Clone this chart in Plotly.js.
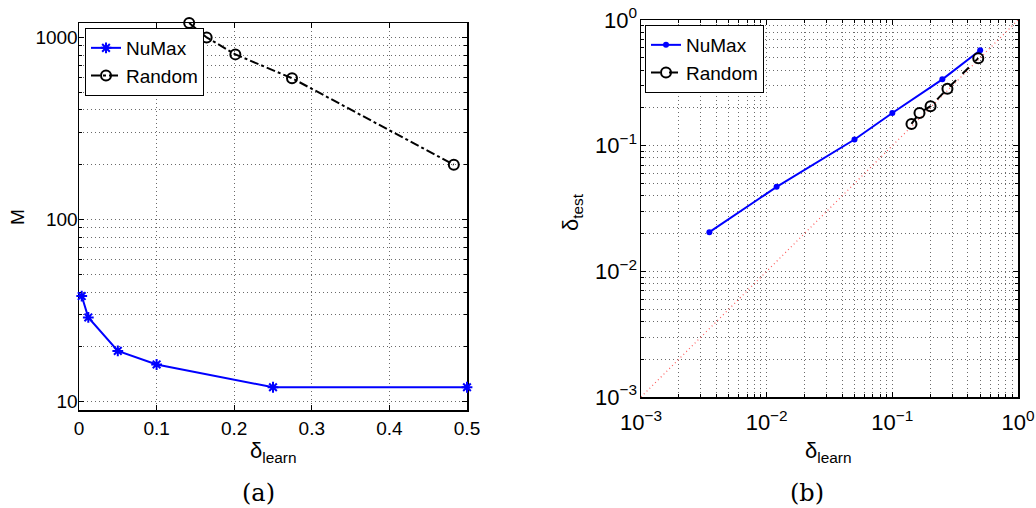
<!DOCTYPE html>
<html>
<head>
<meta charset="utf-8">
<script src="https://cdn.plot.ly/plotly-3.0.1.min.js"></script>
<style>html,body{margin:0;padding:0;background:#fff;}#chart{width:1036px;height:508px;}</style>
</head>
<body>
<div id="chart"></div>
<script>
// ---- data ----
const numaxDeltaLearn = [0.0035, 0.012, 0.05, 0.1, 0.25, 0.5];
const numaxM          = [38, 29, 19, 16, 12, 12];
const numaxDeltaTest  = [0.0205, 0.047, 0.112, 0.182, 0.337, 0.574];
const randomDeltaLearn = [0.142, 0.1645, 0.2015, 0.2745, 0.483];
const randomM          = [1200, 1000, 807, 597, 200];
const randomDeltaTest  = [0.149, 0.182, 0.206, 0.284, 0.497];
const diagonal = [0.001, 1];
const linTicks = [0, 0.1, 0.2, 0.3, 0.4, 0.5];
const linTickText = ['0', '0.1', '0.2', '0.3', '0.4', '0.5'];
const mTicks = [10, 100, 1000];
const mTickText = ['10', '100', '1000'];
const logTicks = [0.001, 0.01, 0.1, 1];
const logTickText = ['10<sup>−3</sup>', '10<sup>−2</sup>', '10<sup>−1</sup>', '10<sup>0</sup>'];

function minorLog(lo, hi) {
  const out = [];
  for (let e = lo; e < hi; e++) for (let k = 2; k <= 9; k++) out.push(k * Math.pow(10, e));
  return out;
}

const BLUE = '#0000ff';
const GRID = '#6a6a6a';
const DOT = '1px,3px';
const SANS = '"Liberation Sans", Arial, Helvetica, sans-serif';
const SERIF = '"DejaVu Serif", "Liberation Serif", serif';

const traces = [
  {x: numaxDeltaLearn, y: numaxM, xaxis: 'x', yaxis: 'y', name: 'NuMax', mode: 'lines+markers',
   line: {color: BLUE, width: 2}, marker: {symbol: 'asterisk-open', size: 9, color: BLUE, line: {color: BLUE, width: 2}},
   cliponaxis: false, legend: 'legend'},
  {x: randomDeltaLearn, y: randomM, xaxis: 'x', yaxis: 'y', name: 'Random', mode: 'lines+markers',
   line: {color: 'black', width: 2, dash: 'dashdot'}, marker: {symbol: 'circle-open', size: 10, color: 'black', line: {color: 'black', width: 2}},
   cliponaxis: false, legend: 'legend'},
  {x: diagonal, y: diagonal, xaxis: 'x2', yaxis: 'y2', mode: 'lines', showlegend: false,
   line: {color: '#ff5a5a', width: 1.2, dash: '1px,3px'}, hoverinfo: 'skip'},
  {x: numaxDeltaLearn, y: numaxDeltaTest, xaxis: 'x2', yaxis: 'y2', name: 'NuMax', mode: 'lines+markers',
   line: {color: BLUE, width: 2}, marker: {symbol: 'circle', size: 6, color: BLUE},
   cliponaxis: false, legend: 'legend2'},
  {x: randomDeltaLearn, y: randomDeltaTest, xaxis: 'x2', yaxis: 'y2', name: 'Random', mode: 'lines+markers',
   line: {color: 'black', width: 2, dash: 'dash'}, marker: {symbol: 'circle-open', size: 10, color: 'black', line: {color: 'black', width: 2}},
   cliponaxis: false, legend: 'legend2'}
];

const axisCommon = {
  ticks: 'inside', ticklen: 5, tickcolor: 'black', showline: true, linecolor: 'black', linewidth: 1.5,
  mirror: 'ticks', showgrid: true, gridcolor: GRID, griddash: DOT, gridwidth: 1, zeroline: false,
  tickfont: {family: SANS, size: 19, color: 'black'}, automargin: false, layer: 'below traces'
};
function minorOpts(vals) {
  return {tickmode: 'array', tickvals: vals, ticks: 'inside', ticklen: 3, tickcolor: 'black',
          showgrid: true, gridcolor: GRID, griddash: DOT, gridwidth: 1};
}

const legendCommon = {xanchor: 'left', yanchor: 'top', bordercolor: 'black', borderwidth: 1, bgcolor: 'white',
  font: {family: SANS, size: 19, color: 'black'}, tracegroupgap: 0, itemwidth: 30};

function label(text, px, py, size, family, angle) {
  return {text: text, xref: 'paper', yref: 'paper', x: px / 1036, y: 1 - py / 508,
          xanchor: 'center', yanchor: 'middle', showarrow: false, textangle: angle || 0,
          font: {family: family, size: size, color: 'black'}};
}

const layout = {
  width: 1036, height: 508, margin: {l: 0, r: 0, t: 0, b: 0},
  paper_bgcolor: 'white', plot_bgcolor: 'white',
  font: {family: SANS, size: 19, color: 'black'},
  xaxis: Object.assign({}, axisCommon, {domain: [79/1036, 467/1036], range: [0, 0.5], anchor: 'y',
    tickmode: 'array', tickvals: linTicks, ticktext: linTickText, ticklabelstandoff: 1}),
  yaxis: Object.assign({}, axisCommon, {domain: [1 - 410/508, 1 - 23/508], type: 'log',
    range: [Math.log10(9), Math.log10(1200)], anchor: 'x', ticklabelstandoff: -4,
    tickmode: 'array', tickvals: mTicks, ticktext: mTickText, minor: minorOpts(minorLog(1, 3))}),
  xaxis2: Object.assign({}, axisCommon, {domain: [641/1036, 1018/1036], type: 'log', range: [-3, 0], anchor: 'y2',
    ticklabelstandoff: 5, tickfont: {family: SANS, size: 22, color: 'black'},
    tickmode: 'array', tickvals: logTicks, ticktext: logTickText, minor: minorOpts(minorLog(-3, 0))}),
  yaxis2: Object.assign({}, axisCommon, {domain: [1 - 397/508, 1 - 20/508], type: 'log', range: [-3, 0], anchor: 'x2',
    ticklabelstandoff: -2, tickfont: {family: SANS, size: 22, color: 'black'},
    tickmode: 'array', tickvals: logTicks, ticktext: logTickText, minor: minorOpts(minorLog(-3, 0))}),
  legend: Object.assign({}, legendCommon, {x: 85/1036, y: 1 - 28/508}),
  legend2: Object.assign({}, legendCommon, {x: 645/1036, y: 1 - 25/508}),
  showlegend: true,
  annotations: [
    label('M', 17, 217, 19, SANS, -90),
    label('δ<sub>learn</sub>', 273, 452, 22, SANS),
    label('δ<sub>learn</sub>', 828, 452, 22, SANS),
    label('δ<sub>test</sub>', 572, 212, 22, SANS, -90),
    label('(a)', 258, 493, 24, SERIF),
    label('(b)', 807, 493, 24, SERIF)
  ]
};

Plotly.newPlot('chart', traces, layout, {staticPlot: true, displayModeBar: false});
</script>
</body>
</html>
